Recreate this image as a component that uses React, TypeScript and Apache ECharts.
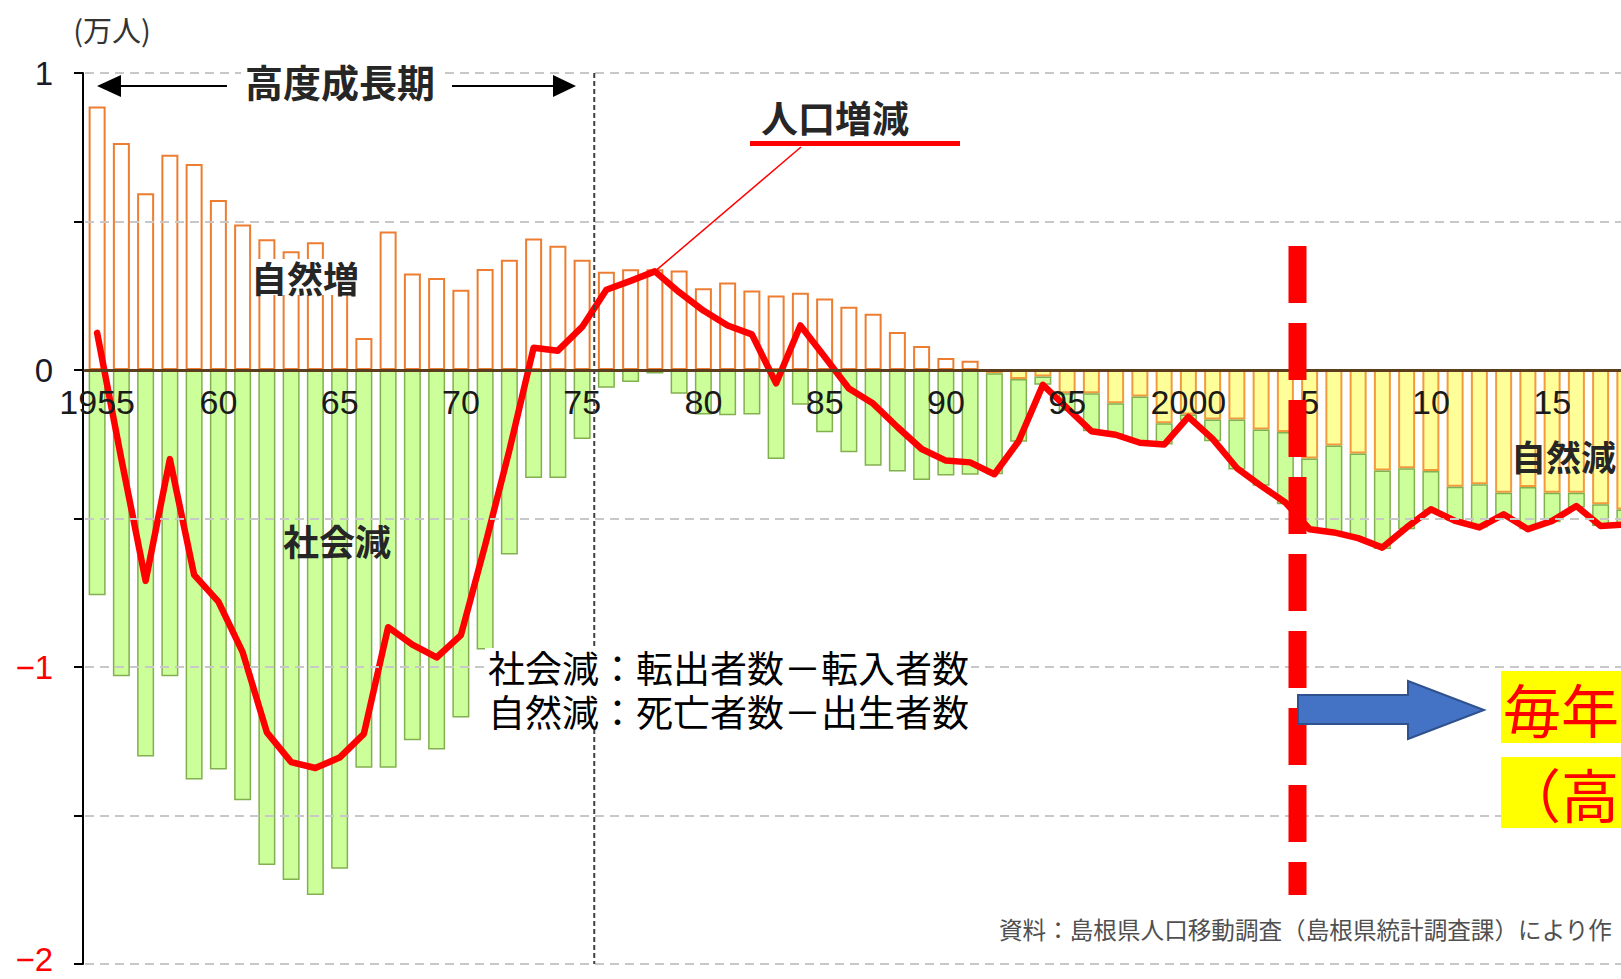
import React, { useEffect, useRef } from "react";
import * as echarts from "echarts";

// ---- data (単位：万人) ----
const years = [
  "1955", "1956", "1957", "1958", "1959", "1960", "1961", "1962", "1963", "1964",
  "1965", "1966", "1967", "1968", "1969", "1970", "1971", "1972", "1973", "1974",
  "1975", "1976", "1977", "1978", "1979", "1980", "1981", "1982", "1983", "1984",
  "1985", "1986", "1987", "1988", "1989", "1990", "1991", "1992", "1993", "1994",
  "1995", "1996", "1997", "1998", "1999", "2000", "2001", "2002", "2003", "2004",
  "2005", "2006", "2007", "2008", "2009", "2010", "2011", "2012", "2013", "2014",
  "2015", "2016", "2017", "2018",
];

// 自然増減（出生−死亡）
const naturalChange = [
  0.887, 0.764, 0.595, 0.725, 0.694, 0.572, 0.49, 0.44, 0.4, 0.43,
  0.35, 0.108, 0.466, 0.325, 0.31, 0.27, 0.34, 0.371, 0.443, 0.418,
  0.371, 0.331, 0.339, 0.339, 0.335, 0.275, 0.295, 0.268, 0.251, 0.26,
  0.241, 0.213, 0.189, 0.128, 0.081, 0.04, 0.031, -0.011, -0.03, -0.022,
  -0.078, -0.078, -0.112, -0.089, -0.179, -0.15, -0.167, -0.167, -0.2, -0.209,
  -0.298, -0.254, -0.281, -0.338, -0.331, -0.34, -0.393, -0.385, -0.413, -0.394,
  -0.413, -0.413, -0.452, -0.47,
];

// 社会増減（転入−転出）
const socialChange = [
  -0.758, -1.031, -1.301, -1.031, -1.379, -1.345, -1.449, -1.667, -1.717, -1.768,
  -1.679, -1.339, -1.339, -1.247, -1.278, -1.17, -0.941, -0.621, -0.364, -0.364,
  -0.232, -0.06, -0.04, -0.012, -0.08, -0.15, -0.152, -0.15, -0.3, -0.117,
  -0.21, -0.277, -0.322, -0.342, -0.37, -0.355, -0.353, -0.34, -0.212, -0.028,
  -0.06, -0.128, -0.106, -0.156, -0.072, -0.02, -0.073, -0.168, -0.19, -0.243,
  -0.243, -0.293, -0.288, -0.265, -0.205, -0.134, -0.115, -0.145, -0.078, -0.142,
  -0.1, -0.05, -0.073, -0.05,
];

// 人口増減
const populationChange = [
  0.125, -0.3, -0.71, -0.3, -0.69, -0.78, -0.95, -1.22, -1.32, -1.34,
  -1.305, -1.225, -0.866, -0.925, -0.968, -0.893, -0.59, -0.27, 0.075, 0.065,
  0.145, 0.27, 0.3, 0.332, 0.262, 0.2, 0.15, 0.12, -0.045, 0.15,
  0.045, -0.062, -0.113, -0.192, -0.266, -0.305, -0.311, -0.351, -0.24, -0.05,
  -0.128, -0.206, -0.218, -0.245, -0.251, -0.158, -0.232, -0.33, -0.39, -0.446,
  -0.536, -0.547, -0.566, -0.598, -0.53, -0.469, -0.508, -0.53, -0.486, -0.536,
  -0.508, -0.458, -0.525, -0.52,
];

const xTickYears = ["1955", "1960", "1965", "1970", "1975", "1980", "1985", "1990", "1995", "2000", "2005", "2010", "2015"];
const xTickTexts = ["1955", "60", "65", "70", "75", "80", "85", "90", "95", "2000", "5", "10", "15"];
const yTickValues = [1, 0, -1, -2];
const yTickTexts = ["1", "0", "−1", "−2"];

const CJK = '"Noto Sans CJK JP", "Noto Sans CJK SC", sans-serif';
const NUM = '"Liberation Sans", Arial, sans-serif';

const VIEW_W = 1621;
const VIEW_H = 979;
const CHART_W = 1637; // plot continues past the right edge, as in the source image
const GRID = { left: 85, right: 0, top: 73, bottom: 15 };

function txt(text: string, x: number, y: number, fontSize: number, extra: any = {}, align = "center") {
  return {
    type: "text",
    z: 120,
    x,
    y,
    style: {
      text,
      fontSize,
      fontFamily: CJK,
      fill: "#1a1a1a",
      align,
      textAlign: align,
      verticalAlign: "middle",
      textVerticalAlign: "middle",
      ...extra,
    },
  };
}

export default function App() {
  const ref = useRef<HTMLDivElement>(null);

  useEffect(() => {
    if (!ref.current) return;
    const chart = echarts.init(ref.current, null, { renderer: "svg" });

    const plotH = VIEW_H - GRID.top - GRID.bottom;
    const zeroFromBottom = (plotH * 2) / 3; // axis range is -2 .. 1

    const option: any = {
      animation: false,
      backgroundColor: "#ffffff",
      grid: { ...GRID, containLabel: false },
      xAxis: {
        type: "category",
        data: years,
        z: 10,
        offset: -zeroFromBottom,
        axisLine: { onZero: false, lineStyle: { color: "#5C3D1E", width: 3 } },
        axisTick: { show: false },
        splitLine: { show: false },
        axisLabel: {
          interval: 0,
          margin: 15,
          fontSize: 34,
          fontFamily: NUM,
          color: "#1a1a1a",
          formatter: (v: string) => {
            const i = xTickYears.indexOf(v);
            return i >= 0 ? xTickTexts[i] : "";
          },
        },
      },
      yAxis: {
        type: "value",
        min: -2,
        max: 1,
        interval: 0.5,
        offset: 2,
        z: 10,
        axisLine: { show: true, lineStyle: { color: "#000000", width: 2 } },
        axisTick: { show: true, length: 9, lineStyle: { color: "#000000", width: 2 } },
        splitLine: { show: true, lineStyle: { color: "#C8C8C8", width: 2, type: [9, 6] } },
        axisLabel: {
          margin: 30,
          formatter: (v: number) => {
            const i = yTickValues.indexOf(v);
            if (i < 0) return "";
            if (v === -2) return `{negb|${yTickTexts[i]}}`;
            return v < 0 ? `{neg|${yTickTexts[i]}}` : `{pos|${yTickTexts[i]}}`;
          },
          rich: {
            pos: { color: "#1a1a2a", fontSize: 33, fontFamily: NUM },
            neg: { color: "#FF0000", fontSize: 33, fontFamily: NUM },
            negb: { color: "#FF0000", fontSize: 33, fontFamily: NUM, padding: [0, 0, 10, 0] },
          },
        },
      },
      series: [
        {
          name: "自然増減",
          type: "bar",
          stack: "pop",
          barWidth: 17,
          data: naturalChange.map((v) => ({
            value: v,
            itemStyle:
              v >= 0
                ? { color: "#FFFFFF", borderColor: "#ED7D31", borderWidth: 2 }
                : { color: "#FFFF99", borderColor: "#F29A3C", borderWidth: 2 },
          })),
        },
        {
          name: "社会増減",
          type: "bar",
          stack: "pop",
          barWidth: 17,
          data: socialChange,
          itemStyle: { color: "#CCFF99", borderColor: "#82B050", borderWidth: 1.5 },
        },
        {
          name: "人口増減",
          type: "line",
          data: populationChange,
          symbol: "none",
          z: 5,
          lineStyle: { color: "#FF0000", width: 6.5, join: "round", cap: "round" },
        },
      ],
    };
    chart.setOption(option);

    const px = (cat: string, v: number) => chart.convertToPixel({ gridIndex: 0 }, [cat, v]) as number[];
    const x1975b = (px("1975", 0)[0] + px("1976", 0)[0]) / 2;
    const x2004b = (px("2004", 0)[0] + px("2005", 0)[0]) / 2;
    const yTop = px("1975", 1)[1];
    const yBot = px("1975", -2)[1];
    const peak = px("1978", populationChange[years.indexOf("1978")]);

    const bold = { fontWeight: "bold", fill: "#262626" };

    const graphic: any[] = [
      // (万人)
      txt("(万人)", 112, 29, 29, { fill: "#333333" }),
      // 高度成長期 arrow
      { type: "line", z: 110, shape: { x1: 118, y1: 86, x2: 227, y2: 86 }, style: { stroke: "#000", lineWidth: 2 } },
      { type: "line", z: 110, shape: { x1: 452, y1: 86, x2: 556, y2: 86 }, style: { stroke: "#000", lineWidth: 2 } },
      { type: "polygon", z: 110, shape: { points: [[97, 86], [121, 75], [121, 97]] }, style: { fill: "#000" } },
      { type: "polygon", z: 110, shape: { points: [[576, 86], [553, 75], [553, 97]] }, style: { fill: "#000" } },
      txt("高度成長期", 340, 80, 38, { backgroundColor: "#ffffff", padding: [2, 4], ...bold }),
      // 1975/76 boundary
      {
        type: "line",
        z: 60,
        shape: { x1: x1975b, y1: yTop, x2: x1975b, y2: yBot },
        style: { stroke: "#404040", lineWidth: 2, lineDash: [5, 3] },
      },
      // labels in plot
      txt("自然増", 305, 277, 36, { backgroundColor: "#ffffff", ...bold }),
      txt("社会減", 337, 540, 36, bold),
      txt("自然減", 1511, 455, 35, bold, "left"),
      // 人口増減 label
      txt("人口増減", 835, 117, 37, bold),
      { type: "rect", z: 110, shape: { x: 750, y: 141, width: 210, height: 5 }, style: { fill: "#FF0000" } },
      {
        type: "line",
        z: 110,
        shape: { x1: 801, y1: 147, x2: peak[0], y2: peak[1] },
        style: { stroke: "#FF0000", lineWidth: 1.5 },
      },
      // definitions
      { type: "rect", z: 100, shape: { x: 485, y: 648, width: 486, height: 82 }, style: { fill: "#ffffff" } },
      txt("社会減：転出者数－転入者数\n自然減：死亡者数－出生者数", 488, 689, 37, { lineHeight: 44, fill: "#000000" }, "left"),
      // red dashed line at 2004/05
      {
        type: "line",
        z: 115,
        shape: { x1: x2004b, y1: 246, x2: x2004b, y2: 895 },
        style: { stroke: "#FF0000", lineWidth: 18, lineDash: [57, 20] },
      },
      // blue arrow
      {
        type: "polygon",
        z: 118,
        shape: {
          points: [[1298, 695], [1408, 695], [1408, 681], [1484, 710], [1408, 739], [1408, 724], [1298, 724]],
        },
        style: { fill: "#4472C4", stroke: "#2F528F", lineWidth: 2 },
      },
      // yellow boxes
      { type: "rect", z: 116, shape: { x: 1501, y: 671, width: 140, height: 72 }, style: { fill: "#FFFF00" } },
      { type: "rect", z: 116, shape: { x: 1501, y: 757, width: 140, height: 71 }, style: { fill: "#FFFF00" } },
      txt("毎年", 1503, 708, 58, { fill: "#FF0000" }, "left"),
      txt("（高", 1503, 793, 58, { fill: "#FF0000" }, "left"),
      // source
      txt("資料：島根県人口移動調査（島根県統計調査課）により作", 999, 929, 23.6, { fill: "#505050" }, "left"),
    ];
    chart.setOption({ graphic });

    return () => chart.dispose();
  }, []);

  return (
    <div
      style={{
        position: "fixed",
        left: 0,
        top: 0,
        width: VIEW_W,
        height: VIEW_H,
        overflow: "hidden",
        background: "#ffffff",
      }}
    >
      <div ref={ref} style={{ width: CHART_W, height: VIEW_H }} />
    </div>
  );
}
